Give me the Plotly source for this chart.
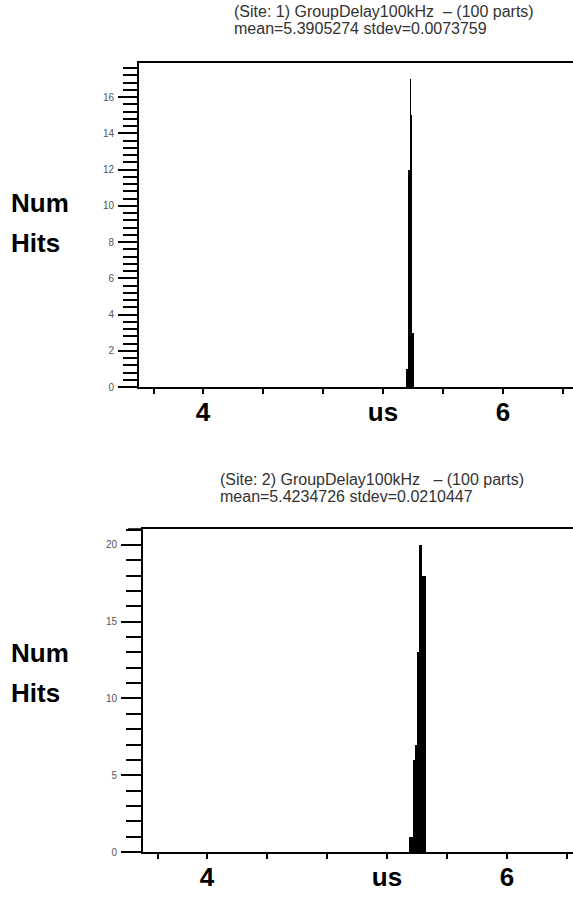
import numpy as np
import plotly.graph_objects as go
from plotly.subplots import make_subplots

# Site 1 histogram (bin edges in us, hit counts)
site1_edges = [5.3533, 5.3667, 5.3800, 5.3867, 5.3933, 5.4067]
site1_counts = [1, 12, 17, 15, 3]
site1_title = "(Site: 1) GroupDelay100kHz  \u2013 (100 parts)"
site1_stats = "mean=5.3905274 stdev=0.0073759"

# Site 2 histogram
site2_edges = [5.349, 5.371, 5.387, 5.402, 5.413, 5.431, 5.460]
site2_counts = [1, 6, 7, 13, 20, 18]
site2_title = "(Site: 2) GroupDelay100kHz   \u2013 (100 parts)"
site2_stats = "mean=5.4234726 stdev=0.0210447"

x_tickvals = [3.67, 4.0, 4.4, 4.8, 5.2, 5.6, 6.0, 6.4]
x_ticktext = ["", "4", "", "", "us", "", "6", ""]

W, H = 573, 897


def px_x(p):
    return p / W


def px_y(p):
    return 1 - p / H


fig = make_subplots(rows=2, cols=1)

for row, (edges, counts) in enumerate(
    [(site1_edges, site1_counts), (site2_edges, site2_counts)], start=1
):
    e = np.array(edges)
    fig.add_trace(
        go.Bar(
            x=(e[:-1] + e[1:]) / 2,
            y=counts,
            width=np.diff(e),
            marker=dict(color="black", line=dict(width=0)),
            showlegend=False,
            hoverinfo="skip",
        ),
        row=row,
        col=1,
    )

big = dict(family="Arial, Liberation Sans", size=26, color="black", weight="bold")
small = dict(family="Arial, Liberation Sans", size=10, color="#555")
common_x = dict(
    tickvals=x_tickvals,
    ticktext=x_ticktext,
    ticks="outside",
    ticklen=5,
    tickwidth=1.5,
    tickcolor="black",
    showline=True,
    linecolor="black",
    linewidth=1.5,
    mirror=True,
    showgrid=False,
    zeroline=False,
    automargin=False,
    tickfont=big,
    ticklabelstandoff=-4,
)
common_y = dict(
    ticks="outside",
    tickwidth=2,
    tickcolor="black",
    showline=True,
    linecolor="black",
    linewidth=2,
    showgrid=False,
    zeroline=False,
    automargin=False,
    tickfont=small,
    ticklabelstandoff=2,
)

fig.update_xaxes(**common_x, range=[3.5733, 6.4667], domain=[px_x(139), 1], row=1, col=1)
fig.update_xaxes(**common_x, range=[3.5733, 6.44], domain=[px_x(143), 1], row=2, col=1)
fig.update_yaxes(
    **common_y,
    range=[0, 17.876],
    domain=[px_y(387), px_y(63)],
    tickvals=list(range(0, 17, 2)),
    ticklen=19,
    minor=dict(dtick=0.4, tick0=0, ticks="outside", ticklen=14, tickwidth=2, tickcolor="black"),
    row=1,
    col=1,
)
fig.update_yaxes(
    **common_y,
    range=[0, 21.04],
    domain=[px_y(852), px_y(529)],
    tickvals=[0, 5, 10, 15, 20],
    ticklen=20,
    minor=dict(dtick=1, tick0=0, ticks="outside", ticklen=15, tickwidth=2, tickcolor="black"),
    row=2,
    col=1,
)

title_font = dict(family="Arial, Liberation Sans", size=16, color="#333")
annotations = []
for x0, y1, y2, t1, t2 in [
    (232, 11, 28, site1_title, site1_stats),
    (218, 479, 496, site2_title, site2_stats),
]:
    for yy, txt in [(y1, t1), (y2, t2)]:
        annotations.append(
            dict(
                text=txt, x=px_x(x0), y=px_y(yy), xref="paper", yref="paper",
                xanchor="left", yanchor="middle", showarrow=False, font=title_font,
            )
        )

for y_num, y_hits in [(203, 243), (653, 693)]:
    for yy, txt in [(y_num, "Num"), (y_hits, "Hits")]:
        annotations.append(
            dict(
                text=txt, x=px_x(9), y=px_y(yy), xref="paper", yref="paper",
                xanchor="left", yanchor="middle", showarrow=False, font=big,
            )
        )

fig.update_layout(
    width=W,
    height=H,
    margin=dict(l=0, r=0, t=0, b=0),
    plot_bgcolor="white",
    paper_bgcolor="white",
    bargap=0,
    annotations=annotations,
    shapes=[
        dict(
            type="line", xref="paper", yref="paper",
            x0=px_x(128), x1=px_x(143), y0=px_y(529), y1=px_y(529),
            line=dict(color="black", width=1.5),
        )
    ],
)

# drop the default 8px page margin so paper pixels match the window
fig.write_html(
    "out.html",
    config={"displayModeBar": False},
    post_script="document.body.style.margin='0';",
)
